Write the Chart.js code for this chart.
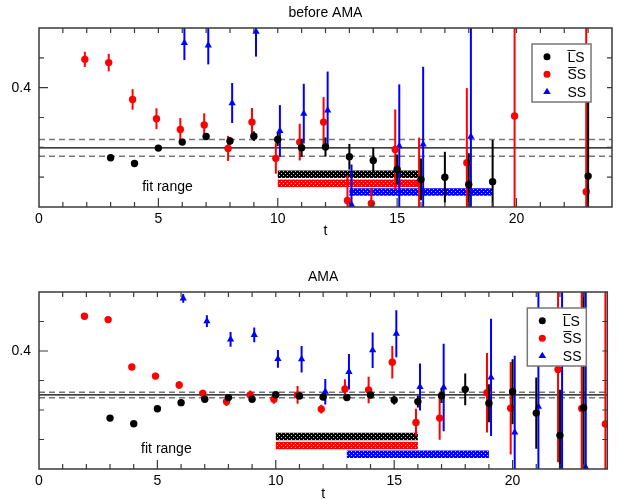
<!DOCTYPE html>
<html><head><meta charset="utf-8">
<script src="https://cdn.jsdelivr.net/npm/chart.js@4"></script>
<style>
html,body{margin:0;padding:0;overflow:hidden;background:#fff;width:620px;height:500px}
.w{position:absolute;left:0;width:620px;height:250px}
canvas{display:block}
</style></head><body>
<div class="w" style="top:0px"><canvas id="c1" width="620" height="250"></canvas></div>
<div class="w" style="top:264px"><canvas id="c2" width="620" height="250"></canvas></div>
<script>
// ---------- data ----------
const T = [2,3,4,5,6,7,8,9,10,11,12,13,14,15,16,17,18,19,20,21,22,23,24];

// before AMA
const LS_BEFORE     = [null,.353,.3492,.3595,.3635,.3673,.3642,.3675,.3653,.3597,.3602,.3537,.3512,.3452,.3385,.340,.3351,.3369,null,null,null,.3407,null];
const LS_BEFORE_ERR = [null,.001,.001,.0012,.0015,.002,.0025,.0032,.0045,.006,.0064,.0086,.0085,.010,.014,.017,.021,.028,null,null,null,.05,null];
const SSB_BEFORE     = [.419,.4168,.3921,.3792,.372,.375,.3593,.3769,.3526,.3635,.3769,.3244,.3224,.3586,.336,null,.3497,null,.381,null,null,.3302,null];
const SSB_BEFORE_ERR = [.0051,.0059,.0069,.007,.0076,.0078,.0084,.0095,.0103,.0123,.0168,.0168,.010,.0268,.0305,null,.05,null,.12,null,null,.12,null];
const SS_BEFORE     = [null,null,null,null,.430,.4284,.3897,.4376,.371,.3826,.3848,.3215,null,.3608,.362,null,.3671,null,null,null,null,null,null];
const SS_BEFORE_ERR = [null,null,null,null,.0115,.0128,.0134,.0168,.0173,.020,.026,.027,null,.0414,.052,null,.12,null,null,null,null,null,null];

// AMA
const LS_AMA     = [null,.3545,.3507,.3608,.365,.3673,.3684,.3673,.3704,.3695,.3688,.3684,.3702,.3668,.3657,.3697,.374,.3646,.3724,.3579,.3428,.3616,null];
const LS_AMA_ERR = [null,.0008,.0008,.0008,.001,.001,.001,.0012,.0015,.0015,.002,.0018,.002,.003,.004,.005,.0107,.0129,.022,.0242,.031,.12,null];
const SSB_AMA     = [.4236,.4213,.3892,.383,.3769,.3713,.3657,.3702,.3673,.3702,.3606,.3742,.3736,.3924,.3516,.3545,null,.3717,.3612,null,.3875,.361,.3505];
const SSB_AMA_ERR = [.0015,.0015,.002,.0022,.0025,.0025,.003,.003,.003,.006,.003,.0067,.009,.011,.0093,.0146,null,.027,.0314,null,.063,.12,.12];
const SS_AMA     = [null,null,null,null,.4357,.4202,.4079,.411,.3946,.3944,.3724,.3859,.4005,.4117,.3756,.3753,null,.3821,.3448,.3623,.45,.321,null];
const SS_AMA_ERR = [null,null,null,null,.003,.004,.005,.005,.006,.009,.0087,.012,.012,.016,.016,.0297,null,.0398,.052,.12,.2,.12,null];

// fits: [value, error]
const FIT_BEFORE = [0.3597, 0.0056];
const FIT_AMA    = [0.3702, 0.0019];
const FIT_RANGES = [[10,16],[10,16],[13,19]];
const FIT_LEVELS = [0.342, 0.336, 0.330];

const X_LABELS = [0,5,10,15,20];
const Y_LABELS = [0.4];
const SERIES_NAMES = ['L\u0305S','S\u0305S','SS'];
const TITLES = ['before AMA','AMA'];

// ---------- styles ----------
const FONT = "'Liberation Sans', Arial, Helvetica, sans-serif";
Chart.defaults.font.family = FONT;
Chart.defaults.font.size = 14;
Chart.defaults.color = '#000';
const COLORS = ['#000000','#ff0000','#0000ff'];
const LIGHT  = ['#c8c8c8','#ffc0c0','#c0c0ff'];
const OFFS = [0, -0.08, 0.09];
const STYLES = ['circle','circle','triangle'];
const RADII = [3.7, 3.7, 4.2];

function pattern(c, l){
  const cv = document.createElement('canvas'); cv.width = 4; cv.height = 4;
  const g = cv.getContext('2d');
  g.fillStyle = c; g.fillRect(0,0,4,4);
  g.fillStyle = l; g.fillRect(1,1,1,1); g.fillRect(3,3,1,1);
  return g.createPattern(cv,'repeat');
}

function series(vals, errs, off){
  const d = [];
  T.forEach((t,i)=>{ if (vals[i] !== null) d.push({x:t+off, y:vals[i], e:errs[i]}); });
  return d;
}

const errPlugin = {
  id:'errbars',
  beforeDatasetDraw(chart, args){
    const ds = chart.data.datasets[args.index];
    if (!ds.isSeries) return;
    const {ctx, chartArea:a, scales:{x,y}} = chart;
    ctx.save();
    ctx.beginPath(); ctx.rect(a.left,a.top,a.right-a.left,a.bottom-a.top); ctx.clip();
    ctx.strokeStyle = ds.backgroundColor; ctx.lineWidth = 2;
    ds.data.forEach(p=>{
      const px = x.getPixelForValue(p.x);
      ctx.beginPath();
      ctx.moveTo(px, y.getPixelForValue(p.y-p.e));
      ctx.lineTo(px, y.getPixelForValue(p.y+p.e));
      ctx.stroke();
    });
    ctx.restore();
  }
};

const fitLinePlugin = {
  id:'fitlines',
  beforeDatasetsDraw(chart, args, opts){
    const {ctx, chartArea:a, scales:{y}} = chart;
    const [v,e] = opts.fit;
    ctx.save();
    ctx.lineWidth = 1.5; ctx.strokeStyle = '#777'; ctx.setLineDash([6,4]);
    [v-e, v+e].forEach(val=>{
      const py = y.getPixelForValue(val);
      ctx.beginPath(); ctx.moveTo(a.left,py); ctx.lineTo(a.right,py); ctx.stroke();
    });
    ctx.setLineDash([]); ctx.strokeStyle = '#000'; ctx.lineWidth = 1.2;
    const py = y.getPixelForValue(v);
    ctx.beginPath(); ctx.moveTo(a.left,py); ctx.lineTo(a.right,py); ctx.stroke();
    // fit range label
    ctx.fillStyle = '#000'; ctx.font = '14px ' + FONT;
    ctx.textAlign = 'center'; ctx.textBaseline = 'middle';
    ctx.fillText('fit range', chart.scales.x.getPixelForValue(5.38), y.getPixelForValue(0.3332));
    ctx.restore();
  }
};

const framePlugin = {
  id:'frame',
  afterDraw(chart){
    const {ctx, chartArea:a, scales:{x,y}} = chart;
    ctx.save();
    ctx.strokeStyle = '#3a3a3a'; ctx.lineWidth = 1.5;
    ctx.strokeRect(a.left, a.top, a.right-a.left, a.bottom-a.top);
    ctx.lineWidth = 1.2;
    ctx.beginPath();
    for (let t = Math.ceil(x.min); t <= x.max; t++) {
      if (t <= x.min || t >= x.max) continue;
      const px = x.getPixelForValue(t);
      const major = X_LABELS.includes(t);
      ctx.moveTo(px, a.bottom); ctx.lineTo(px, a.bottom - (major ? 9 : 5));
      ctx.moveTo(px, a.top); ctx.lineTo(px, a.top + 5);
    }
    y.ticks.forEach(tk=>{
      const v = tk.value;
      if (v <= y.min + 1e-9 || v >= y.max - 1e-9) return;
      const py = y.getPixelForValue(v);
      const major = Y_LABELS.some(l=>Math.abs(l-v)<1e-6);
      ctx.moveTo(a.left, py); ctx.lineTo(a.left + (major ? 9 : 5), py);
      ctx.moveTo(a.right, py); ctx.lineTo(a.right - 5, py);
    });
    ctx.stroke();
    ctx.restore();
  }
};

const legendPlugin = {
  id:'boxlegend',
  afterDraw(chart){
    const {ctx, chartArea:a} = chart;
    const w = 59, h = 58;
    const left = a.right - 21 - w, top = a.top + 16;
    ctx.save();
    ctx.fillStyle = '#fff'; ctx.fillRect(left, top, w, h);
    ctx.strokeStyle = '#777'; ctx.lineWidth = 1.5; ctx.strokeRect(left, top, w, h);
    ctx.font = '14px ' + FONT; ctx.textAlign = 'left'; ctx.textBaseline = 'middle';
    SERIES_NAMES.forEach((name,i)=>{
      const cy = top + 12.7 + i*17.5;
      const cx = left + 15;
      ctx.fillStyle = COLORS[i];
      ctx.beginPath();
      if (STYLES[i] === 'triangle') {
        const r = 4;
        ctx.moveTo(cx, cy - r); ctx.lineTo(cx + r*0.95, cy + r*0.6); ctx.lineTo(cx - r*0.95, cy + r*0.6); ctx.closePath();
      } else {
        ctx.arc(cx, cy, 3.5, 0, Math.PI*2);
      }
      ctx.fill();
      ctx.fillStyle = '#000';
      ctx.fillText(name, left + 35.5, cy + 1);
    });
    ctx.restore();
  }
};

function makeChart(id, title, data, fit, cfg){
  const datasets = [];
  data.forEach((s,i)=>{
    datasets.push({
      label: SERIES_NAMES[i], isSeries: true,
      data: series(s[0], s[1], OFFS[i]),
      backgroundColor: COLORS[i], borderColor: COLORS[i], borderWidth: 0,
      pointStyle: STYLES[i], pointRadius: RADII[i], pointHoverRadius: RADII[i],
      showLine: false, clip: 0
    });
  });
  FIT_RANGES.forEach((r,i)=>{
    datasets.push({
      type:'line', label:'fit'+i,
      data: [{x:r[0], y:FIT_LEVELS[i]},{x:r[1], y:FIT_LEVELS[i]}],
      borderColor: pattern(COLORS[i], LIGHT[i]), borderWidth: 7.5,
      borderCapStyle:'butt', pointRadius: 0, showLine: true, fill:false, tension:0
    });
  });
  return new Chart(document.getElementById(id), {
    type:'scatter',
    data:{datasets},
    options:{
      responsive:false, animation:false, devicePixelRatio:1,
      layout:{padding:{left:0, right:cfg.right, top:0, bottom:0}},
      plugins:{
        legend:{display:false}, tooltip:{enabled:false},
        title:{display:true, text:title, fullSize:false, font:{size:14, weight:'normal'}, color:'#000', padding:{top:5, bottom:6.2}},
        fitlines:{fit}
      },
      scales:{
        x:{type:'linear', min:0, max:24,
           grid:{display:false, drawTicks:false}, border:{display:false},
           ticks:{stepSize:5, includeBounds:false, padding:4, color:'#000', font:{size:14},
                  callback:(v)=> X_LABELS.includes(v) ? String(v) : ''},
           title:{display:true, text:'t', font:{size:14}, color:'#000', padding:{top:0, bottom:cfg.tpad}},
           afterFit:(s)=>{ s.height = cfg.xh; }},
        y:{type:'linear', min:0.32, max:0.44,
           grid:{display:false, drawTicks:false}, border:{display:false},
           ticks:{stepSize:0.02, includeBounds:false, padding:8, color:'#000', font:{size:14},
                  callback:(v)=> Y_LABELS.some(l=>Math.abs(l-v)<1e-6) ? '0.4' : ''},
           afterFit:(s)=>{ s.width = 39; }}
      }
    },
    plugins:[fitLinePlugin, errPlugin, framePlugin, legendPlugin]
  });
}

makeChart('c1', TITLES[0],
  [[LS_BEFORE,LS_BEFORE_ERR],[SSB_BEFORE,SSB_BEFORE_ERR],[SS_BEFORE,SS_BEFORE_ERR]],
  FIT_BEFORE, {right:8, xh:43, tpad:10.6});
makeChart('c2', TITLES[1],
  [[LS_AMA,LS_AMA_ERR],[SSB_AMA,SSB_AMA_ERR],[SS_AMA,SS_AMA_ERR]],
  FIT_AMA, {right:12.7, xh:45, tpad:11.6});
</script>
</body></html>
